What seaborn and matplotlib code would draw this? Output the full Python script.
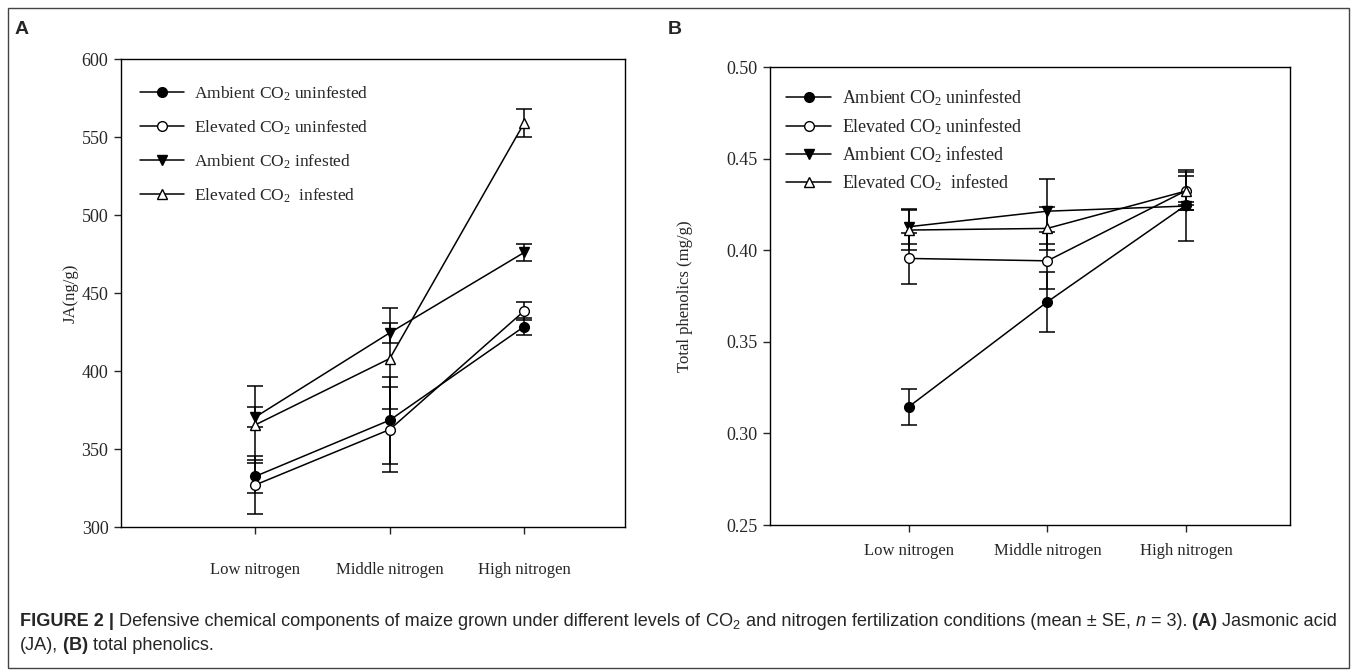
import matplotlib
matplotlib.use("Agg")
import matplotlib.pyplot as plt
import seaborn as sns
import pandas as pd
from matplotlib.patches import Rectangle

# ---------------- data ----------------
nitrogen = ["Low nitrogen", "Middle nitrogen", "High nitrogen"]
groups = ["Ambient CO$_2$ uninfested", "Elevated CO$_2$ uninfested",
          "Ambient CO$_2$ infested", "Elevated CO$_2$  infested"]

ja_amb_uninf = [332.5, 368.5, 428.5]
ja_elev_uninf = [327.0, 362.5, 438.5]
ja_amb_inf = [370.5, 424.5, 476.0]
ja_elev_inf = [365.5, 408.0, 559.0]
ja_amb_uninf_se = [10.4, 27.9, 5.7]
ja_elev_uninf_se = [18.5, 27.4, 6.0]
ja_amb_inf_se = [6.4, 6.4, 5.4]
ja_elev_inf_se = [24.6, 32.3, 8.9]

ph_amb_uninf = [0.3145, 0.3718, 0.4246]
ph_elev_uninf = [0.3955, 0.3942, 0.4325]
ph_amb_inf = [0.4128, 0.4213, 0.4241]
ph_elev_inf = [0.4110, 0.4119, 0.4323]
ph_amb_uninf_se = [0.0100, 0.0164, 0.0194]
ph_elev_uninf_se = [0.0137, 0.0156, 0.0080]
ph_amb_inf_se = [0.0095, 0.0178, 0.0020]
ph_elev_inf_se = [0.0110, 0.0118, 0.0105]

ja_ticks = [300, 350, 400, 450, 500, 550, 600]
ph_ticks = [0.25, 0.30, 0.35, 0.40, 0.45, 0.50]

# ---------------- style ----------------
sns.set_style("ticks")
plt.rcParams["font.family"] = ["Liberation Serif", "DejaVu Serif"]
plt.rcParams["mathtext.default"] = "regular"
plt.rcParams["axes.linewidth"] = 1.0


def make_df(vals, ses):
    rows = []
    for g, v, s in zip(groups, vals, ses):
        for i, (vv, ss) in enumerate(zip(v, s)):
            rows.append({"group": g, "pos": i + 1, "value": vv, "se": ss})
    return pd.DataFrame(rows)


df_ja = make_df([ja_amb_uninf, ja_elev_uninf, ja_amb_inf, ja_elev_inf],
                [ja_amb_uninf_se, ja_elev_uninf_se, ja_amb_inf_se, ja_elev_inf_se])
df_ph = make_df([ph_amb_uninf, ph_elev_uninf, ph_amb_inf, ph_elev_inf],
                [ph_amb_uninf_se, ph_elev_uninf_se, ph_amb_inf_se, ph_elev_inf_se])

marker_style = {
    groups[0]: ("o", "black"),
    groups[1]: ("o", "white"),
    groups[2]: ("v", "black"),
    groups[3]: ("^", "white"),
}

W, H = 1357, 670
fig = plt.figure(figsize=(W / 100, H / 100), dpi=100)


def px_axes(x0, y0, x1, y1):
    return fig.add_axes([x0 / W, 1 - y1 / H, (x1 - x0) / W, (y1 - y0) / H])


axA = px_axes(121, 59, 625, 527)
axB = px_axes(770, 67, 1290, 525)


def draw_panel(ax, df, ylim, yticks, yfmt, ylabel, ylabelpad, xpad,
               leg_anchor, leg_size, labelspacing):
    for g in groups:
        sub = df[df["group"] == g]
        ax.errorbar(sub["pos"], sub["value"], yerr=sub["se"], fmt="none",
                    ecolor="black", elinewidth=1.1, capsize=6, capthick=1.1, zorder=2)
    for g in groups:
        sub = df[df["group"] == g]
        m, fc = marker_style[g]
        sns.lineplot(data=sub, x="pos", y="value", ax=ax, color="black",
                     linewidth=1.1, marker=m, markersize=7, markerfacecolor=fc,
                     markeredgecolor="black", markeredgewidth=1.0,
                     label=g, zorder=3, errorbar=None, sort=False)
    ax.set_xlim(0, 3.75)
    ax.set_ylim(*ylim)
    ax.set_xticks([1, 2, 3])
    ax.set_xticklabels(nitrogen, fontsize=12)
    ax.set_yticks(yticks)
    ax.set_yticklabels([yfmt.format(t) for t in yticks], fontsize=13)
    ax.tick_params(axis="both", direction="out", length=5, width=1.0,
                   top=False, right=False, pad=4)
    ax.tick_params(axis="x", pad=xpad)
    ax.set_xlabel("")
    ax.set_ylabel(ylabel, fontsize=12, labelpad=ylabelpad)
    for sp in ax.spines.values():
        sp.set_visible(True)
        sp.set_color("black")
        sp.set_linewidth(1.0)
    ax.legend(loc="upper left", bbox_to_anchor=leg_anchor, frameon=False,
              fontsize=leg_size, handlelength=2.5, handletextpad=0.6,
              borderaxespad=0, borderpad=0, labelspacing=labelspacing,
              numpoints=1)


draw_panel(axA, df_ja, (300, 600), ja_ticks, "{:.0f}", "JA(ng/g)", 2, 20,
           (0.038, 0.946), 12.5, 0.9)
draw_panel(axB, df_ph, (0.25, 0.50), ph_ticks, "{:.2f}", "Total phenolics (mg/g)", 24, 8,
           (0.031, 0.955), 13, 0.42)

# panel letters
fig.text(15 / W, 1 - 29 / H, "A", fontsize=14, fontweight="bold",
         family=["Liberation Sans", "DejaVu Sans"], va="center", ha="left")
fig.text(668 / W, 1 - 29 / H, "B", fontsize=14, fontweight="bold",
         family=["Liberation Sans", "DejaVu Sans"], va="center", ha="left")

# outer border
fig.patches.append(Rectangle((8 / W, 2 / H), (W - 16) / W, (H - 10) / H,
                             transform=fig.transFigure, fill=False,
                             edgecolor="#444444", linewidth=1.0))

# caption
renderer = fig.canvas.get_renderer()
sans = ["Liberation Sans", "DejaVu Sans"]
line1 = [("FIGURE 2 |", "bold", "normal"),
         (" Defensive chemical components of maize grown under different levels of", "normal", "normal"),
         (" CO$_2$", "normal", "normal"),
         (" and nitrogen fertilization conditions (mean \u00b1 SE,", "normal", "normal"),
         (" ", "normal", "normal"),
         ("n", "normal", "italic"),
         (" = 3).", "normal", "normal"),
         (" (A)", "bold", "normal"),
         (" Jasmonic acid", "normal", "normal")]
line2 = [("(JA),", "normal", "normal"),
         (" (B)", "bold", "normal"),
         (" total phenolics.", "normal", "normal")]


def draw_runs(runs, x_px, y_px, size):
    x = x_px
    made = []
    for txt, wt, st in runs:
        if txt == " ":
            t1 = fig.text(0, 0, "a a", fontsize=size, family=sans)
            t2 = fig.text(0, 0, "aa", fontsize=size, family=sans)
            w = (t1.get_window_extent(renderer=renderer).width
                 - t2.get_window_extent(renderer=renderer).width)
            t1.remove()
            t2.remove()
            x += w
            continue
        t = fig.text(x / W, 1 - y_px / H, txt, fontsize=size, fontweight=wt,
                     fontstyle=st, family=sans, va="center", ha="left")
        made.append(t)
        x += t.get_window_extent(renderer=renderer).width
    return x, made


xend, made = draw_runs(line1, 0, -100, 10)
for t in made:
    t.remove()
size = 10 * (1328 / xend)
draw_runs(line1, 20, 621, size)
draw_runs(line2, 20, 646, size)

fig.savefig("out.png", dpi=100)
